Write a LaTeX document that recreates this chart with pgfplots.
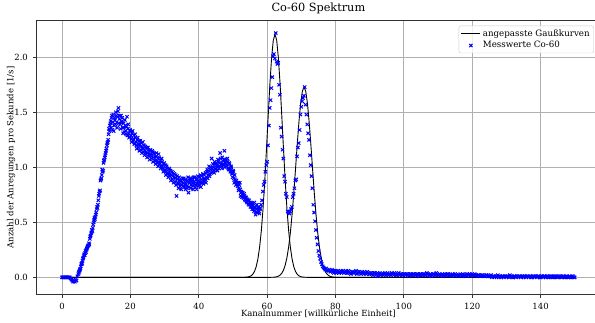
\documentclass[border=0pt]{standalone}
\usepackage{fontspec}
\setmainfont{DejaVu Serif}
\usepackage{pgfplots}
\pgfplotsset{compat=1.18}
\definecolor{gridgray}{RGB}{176,176,176}
\definecolor{spine}{RGB}{50,50,50}
\definecolor{mblue}{RGB}{0,0,255}
\begin{document}
\begin{tikzpicture}
\path[use as bounding box] (-36.4pt,-28.6pt) rectangle (558.6pt,294.4pt);
\begin{axis}[
  at={(0,0)}, anchor=south west,
  scale only axis, width=564pt, height=273.7pt,
  xmin=-7.5, xmax=157.5, ymin=-0.155, ymax=2.333,
  xtick={0,20,40,60,80,100,120,140},
  ytick={0,0.5,1,1.5,2},
  yticklabel style={/pgf/number format/fixed, /pgf/number format/fixed zerofill, /pgf/number format/precision=1, xshift=-1.5pt},
  /pgf/number format/assume math mode=true,
  tick label style={font=\fontsize{8.5}{10}\selectfont},
  xticklabel style={inner sep=0pt, yshift=-5pt},
  tick align=outside, major tick length=3.5pt,
  tick style={spine, line width=0.8pt},
  tick pos=left,
  grid=major,
  major grid style={gridgray, line width=0.8pt},
  axis line style={spine, line width=1.1pt},
  title={Co-60 Spektrum},
  title style={font=\fontsize{11.3}{13}\selectfont, at={(axis description cs:0.5,1)}, anchor=base, yshift=2.7pt, inner sep=0pt},
  xlabel={Kanalnummer [willkürliche Einheit]},
  xlabel style={font=\fontsize{8.5}{10}\selectfont, at={(axis description cs:0.5,0)}, anchor=base, yshift=-22.3pt, inner sep=0pt},
  every axis y label/.style={font=\fontsize{8.5}{10}\selectfont, at={(axis description cs:0,0.5)}, xshift=-23pt, rotate=90, anchor=base, inner sep=0pt},
  ylabel={Anzahl der Anregungen pro Sekunde [1/s]},
  legend style={at={(1,1)}, anchor=north east, xshift=-6.5pt, yshift=-5pt, draw=black!20, rounded corners=2pt, fill=white, fill opacity=0.8, text opacity=1, font=\fontsize{8.7}{10}\selectfont, inner xsep=2pt, inner ysep=1.5pt},
  legend cell align=left,
  legend image code/.code={\draw[mark repeat=2,mark phase=2,#1] plot coordinates {(0pt,0pt)(9.5pt,0pt)(19pt,0pt)};},
]
% fitted Gaussian 1
\addplot[black, line width=0.9pt, no marks] coordinates {
(0,0) (52,0) (52.3,0.0001) (53.3,0.0005) (54.3,0.0030) (54.8,0.0066) (55.3,0.0140) (55.8,0.0281)
(56.3,0.0536) (56.8,0.097) (57.3,0.167) (57.8,0.273) (58.3,0.423) (58.8,0.623) (59.3,0.872)
(59.8,1.159) (60.3,1.462) (60.8,1.752) (61.3,1.993) (61.8,2.154) (62.3,2.21) (62.8,2.154)
(63.3,1.993) (63.8,1.752) (64.3,1.462) (64.8,1.159) (65.3,0.872) (65.8,0.623) (66.3,0.423)
(66.8,0.273) (67.3,0.167) (67.8,0.097) (68.3,0.0536) (68.8,0.0281) (69.3,0.0140) (69.8,0.0066)
(70.3,0.0030) (71.3,0.0005) (72.3,0.0001) (73,0) (150,0)
};
\addlegendentry{angepasste Gaußkurven}
% fitted Gaussian 2
\addplot[black, line width=0.9pt, no marks, forget plot] coordinates {
(0,0) (60.5,0) (60.8,0.0001) (61.8,0.0011) (62.3,0.0025) (62.8,0.0053) (63.3,0.0106) (63.8,0.0205)
(64.3,0.0377) (64.8,0.0665) (65.3,0.112) (65.8,0.180) (66.3,0.277) (66.8,0.406) (67.3,0.571)
(67.8,0.766) (68.3,0.982) (68.8,1.204) (69.3,1.411) (69.8,1.580) (70.3,1.691) (70.8,1.73)
(71.3,1.691) (71.8,1.580) (72.3,1.411) (72.8,1.204) (73.3,0.982) (73.8,0.766) (74.3,0.571)
(74.8,0.406) (75.3,0.277) (75.8,0.180) (76.3,0.112) (76.8,0.0665) (77.3,0.0377) (77.8,0.0205)
(78.3,0.0106) (78.8,0.0053) (79.3,0.0025) (79.8,0.0011) (80.8,0.0001) (81,0) (150,0)
};
% measured values (second half of channels)
\addplot[only marks, mark=x, mark size=2.3pt, mblue, mark options={line width=1pt}, forget plot] coordinates {
(4.875,0.04) (5.125,0.06) (5.375,0.08) (5.625,0.12) (5.875,0.13) (6.125,0.17) (6.375,0.20) (6.625,0.20) (6.875,0.24) (7.125,0.25)
(7.375,0.27) (7.625,0.29) (7.875,0.31) (8.125,0.35) (8.375,0.38) (8.625,0.41) (8.875,0.42) (9.125,0.48) (9.375,0.52) (9.625,0.53)
(9.875,0.57) (10.125,0.62) (10.375,0.63) (10.625,0.70) (10.875,0.76) (11.125,0.79) (11.375,0.89) (11.625,0.93) (11.875,0.96) (12.125,1.04)
(12.375,1.07) (12.625,1.11) (12.875,1.15) (13.125,1.20) (13.375,1.23) (13.625,1.30) (13.875,1.33) (14.125,1.40) (14.375,1.36) (14.625,1.47)
(14.875,1.41) (15.125,1.33) (15.375,1.45) (15.625,1.39) (15.875,1.47) (16.125,1.36) (16.375,1.51) (16.625,1.40) (16.875,1.47) (17.125,1.35)
(17.375,1.41) (17.625,1.45) (17.875,1.31) (18.125,1.36) (18.375,1.43) (18.625,1.33) (18.875,1.37) (19.125,1.29) (19.375,1.39) (19.625,1.27)
(19.875,1.34) (20.125,1.29) (20.375,1.23) (20.625,1.33) (20.875,1.26) (21.125,1.21) (21.375,1.30) (21.625,1.23) (21.875,1.17) (22.125,1.27)
(22.375,1.21) (22.625,1.15) (22.875,1.24) (23.125,1.19) (23.375,1.13) (23.625,1.23) (23.875,1.17) (24.125,1.11) (24.375,1.19) (24.625,1.14)
(24.875,1.09) (25.125,1.18) (25.375,1.12) (25.625,1.07) (25.875,1.16) (26.125,1.10) (26.375,1.15) (26.625,1.05) (26.875,1.13) (27.125,1.08)
(27.375,1.03) (27.625,1.13) (27.875,1.06) (28.125,1.01) (28.375,1.09) (28.625,1.04) (28.875,0.99) (29.125,1.08) (29.375,1.01) (29.625,0.96)
(29.875,1.04) (30.125,0.98) (30.375,0.93) (30.625,1.01) (30.875,0.95) (31.125,0.91) (31.375,0.99) (31.625,0.94) (31.875,0.88) (32.125,0.96)
(32.375,0.92) (32.625,0.86) (32.875,0.94) (33.125,0.90) (33.375,0.84) (33.625,0.92) (33.875,0.86) (34.125,0.81) (34.375,0.88) (34.625,0.85)
(34.875,0.80) (35.125,0.87) (35.375,0.83) (35.625,0.90) (35.875,0.84) (36.125,0.80) (36.375,0.87) (36.625,0.83) (36.875,0.91) (37.125,0.82)
(37.375,0.88) (37.625,0.81) (37.875,0.86) (38.125,0.90) (38.375,0.80) (38.625,0.85) (38.875,0.91) (39.125,0.84) (39.375,0.80) (39.625,0.87)
(39.875,0.83) (40.125,0.91) (40.375,0.86) (40.625,0.82) (40.875,0.92) (41.125,0.88) (41.375,0.85) (41.625,0.93) (41.875,0.89) (42.125,0.86)
(42.375,0.96) (42.625,0.90) (42.875,0.97) (43.125,0.92) (43.375,1.00) (43.625,0.95) (43.875,0.99) (44.125,1.03) (44.375,0.97) (44.625,1.05)
(44.875,0.98) (45.125,1.04) (45.375,1.00) (45.625,1.07) (45.875,0.99) (46.125,1.04) (46.375,1.08) (46.625,1.01) (46.875,1.09) (47.125,1.03)
(47.375,1.07) (47.625,1.00) (47.875,1.06) (48.125,1.02) (48.375,1.08) (48.625,0.99) (48.875,1.04) (49.125,0.98) (49.375,1.01) (49.625,0.95)
(49.875,0.91) (50.125,0.96) (50.375,0.86) (50.625,0.89) (50.875,0.84) (51.125,0.86) (51.375,0.83) (51.625,0.79) (51.875,0.84) (52.125,0.80)
(52.375,0.77) (52.625,0.73) (52.875,0.77) (53.125,0.72) (53.375,0.74) (53.625,0.70) (53.875,0.72) (54.125,0.68) (54.375,0.70) (54.625,0.66)
(54.875,0.68) (55.125,0.64) (55.375,0.67) (55.625,0.62) (55.875,0.65) (56.125,0.60) (56.375,0.64) (56.625,0.57) (56.875,0.62) (57.125,0.59)
(57.375,0.63) (57.625,0.60) (57.875,0.62)
(78.75,0.06) (79.25,0.05) (79.75,0.06) (80.25,0.04) (80.75,0.06) (81.25,0.05) (81.75,0.04) (82.25,0.06) (82.75,0.05) (83.25,0.04)
(83.75,0.06) (84.25,0.04) (84.75,0.05) (85.25,0.04) (85.75,0.05) (86.25,0.03) (86.75,0.05) (87.25,0.04) (87.75,0.05) (88.25,0.03)
(88.75,0.04) (89.25,0.05) (89.75,0.03) (90.25,0.04) (90.75,0.03) (91.25,0.04) (91.75,0.02) (92.25,0.04) (92.75,0.03) (93.25,0.02)
(93.75,0.03) (94.25,0.03) (94.75,0.02) (95.25,0.04) (95.75,0.03) (96.25,0.02) (96.75,0.03) (97.25,0.04) (97.75,0.02) (98.25,0.03)
(98.75,0.02) (99.25,0.03) (99.75,0.02) (100.25,0.03) (100.75,0.03) (101.25,0.02) (101.75,0.03) (102.25,0.02) (102.75,0.03) (103.25,0.02)
(103.75,0.03) (104.25,0.02) (104.75,0.03) (105.25,0.02) (105.75,0.03) (106.25,0.02) (106.75,0.04) (107.25,0.02) (107.75,0.03) (108.25,0.02)
(108.75,0.03) (109.25,0.02) (109.75,0.03) (110.25,0.02) (110.75,0.02) (111.25,0.03) (111.75,0.02) (112.25,0.02) (112.75,0.03) (113.25,0.02)
(113.75,0.02) (114.25,0.03) (114.75,0.02) (115.25,0.02) (115.75,0.01) (116.25,0.02) (116.75,0.02) (117.25,0.03) (117.75,0.02) (118.25,0.01)
(118.75,0.02) (119.25,0.03) (119.75,0.02) (120.25,0.02) (120.75,0.03) (121.25,0.02) (121.75,0.02) (122.25,0.01) (122.75,0.02) (123.25,0.01)
(123.75,0.01) (124.25,0.02) (124.75,0.01) (125.25,0.01) (125.75,0.00) (126.25,0.01) (126.75,0.01) (127.25,0.01) (127.75,0.00) (128.25,0.01)
(128.75,0.01) (129.25,0.00) (129.75,0.01) (130.25,0.01) (130.75,0.00) (131.25,0.01) (131.75,0.00) (132.25,0.01) (132.75,0.00) (133.25,0.01)
(133.75,0.01) (134.25,0.00) (134.75,0.01) (135.25,0.01) (135.75,0.00) (136.25,0.01) (136.75,0.01) (137.25,0.00) (137.75,0.01) (138.25,0.00)
(138.75,0.01) (139.25,0.01) (139.75,0.00) (140.25,0.01) (140.75,0.00) (141.25,0.01) (141.75,0.01) (142.25,0.00) (142.75,0.01) (143.25,0.01)
(143.75,0.00) (144.25,0.01) (144.75,0.00) (145.25,0.01) (145.75,0.01) (146.25,0.00) (146.75,0.01) (147.25,0.00) (147.75,0.01) (148.25,0.00)
(148.75,0.00) (149.25,0.01) (149.75,0.00)
};
% measured values
\addplot[only marks, mark=x, mark size=2.3pt, mblue, mark options={line width=1pt}] coordinates {
(0,0.00) (0.25,0.00) (0.5,0.00) (0.75,0.00) (1,0.00) (1.25,0.00) (1.5,0.00) (1.75,0.00) (2,0.00) (2.25,0.00)
(2.5,-0.01) (2.75,-0.02) (3,-0.03) (3.25,-0.04) (3.5,-0.03) (3.75,-0.04) (4,-0.02) (4.25,-0.03) (4.5,0.01) (4.75,0.03)
(5,0.05) (5.25,0.07) (5.5,0.10) (5.75,0.12) (6,0.15) (6.25,0.18) (6.5,0.21) (6.75,0.22) (7,0.23) (7.25,0.26)
(7.5,0.28) (7.75,0.29) (8,0.30) (8.25,0.37) (8.5,0.40) (8.75,0.43) (9,0.45) (9.25,0.50) (9.5,0.54) (9.75,0.55)
(10,0.59) (10.25,0.64) (10.5,0.66) (10.75,0.74) (11,0.78) (11.25,0.88) (11.5,0.90) (11.75,0.98) (12,0.97) (12.25,1.06)
(12.5,1.09) (12.75,1.13) (13,1.17) (13.25,1.22) (13.5,1.25) (13.75,1.35) (14,1.38) (14.25,1.42) (14.5,1.45) (14.75,1.34)
(15,1.48) (15.25,1.38) (15.5,1.43) (15.75,1.50) (16,1.41) (16.25,1.46) (16.5,1.54) (16.75,1.44) (17,1.39) (17.25,1.47)
(17.5,1.42) (17.75,1.36) (18,1.40) (18.25,1.32) (18.5,1.38) (18.75,1.30) (19,1.46) (19.25,1.35) (19.5,1.31) (19.75,1.28)
(20,1.33) (20.25,1.26) (20.5,1.31) (20.75,1.24) (21,1.29) (21.25,1.22) (21.5,1.27) (21.75,1.20) (22,1.25) (22.25,1.18)
(22.5,1.24) (22.75,1.21) (23,1.16) (23.25,1.22) (23.5,1.17) (23.75,1.14) (24,1.20) (24.25,1.15) (24.5,1.12) (24.75,1.18)
(25,1.13) (25.25,1.16) (25.5,1.10) (25.75,1.15) (26,1.12) (26.25,1.08) (26.5,1.14) (26.75,1.09) (27,1.12) (27.25,1.06)
(27.5,1.10) (27.75,1.04) (28,1.08) (28.25,1.12) (28.5,1.03) (28.75,1.06) (29,1.01) (29.25,1.05) (29.5,0.99) (29.75,1.03)
(30,0.97) (30.25,1.02) (30.5,0.96) (30.75,0.99) (31,0.94) (31.25,0.98) (31.5,0.92) (31.75,0.97) (32,0.93) (32.25,0.89)
(32.5,0.95) (32.75,0.91) (33,0.87) (33.25,0.93) (33.5,0.74) (33.75,0.89) (34,0.85) (34.25,0.91) (34.5,0.83) (34.75,0.88)
(35,0.84) (35.25,0.90) (35.5,0.86) (35.75,0.82) (36,0.89) (36.25,0.85) (36.5,0.81) (36.75,0.88) (37,0.77) (37.25,0.86)
(37.5,0.90) (37.75,0.84) (38,0.88) (38.25,0.83) (38.5,0.91) (38.75,0.87) (39,0.82) (39.25,0.89) (39.5,0.85) (39.75,0.92)
(40,0.88) (40.25,0.84) (40.5,0.93) (40.75,0.89) (41,0.86) (41.25,0.94) (41.5,0.90) (41.75,0.87) (42,0.95) (42.25,0.91)
(42.5,0.98) (42.75,0.93) (43,1.01) (43.25,0.94) (43.5,0.98) (43.75,1.08) (44,0.96) (44.25,1.00) (44.5,0.95) (44.75,1.03)
(45,0.99) (45.25,1.02) (45.5,0.97) (45.75,1.05) (46,1.01) (46.25,1.13) (46.5,1.03) (46.75,0.99) (47,1.06) (47.25,1.02)
(47.5,1.15) (47.75,1.04) (48,1.07) (48.25,1.01) (48.5,1.05) (48.75,0.98) (49,1.03) (49.25,0.96) (49.5,1.00) (49.75,0.94)
(50,0.97) (50.25,0.90) (50.5,0.93) (50.75,0.87) (51,0.88) (51.25,0.85) (51.5,0.86) (51.75,0.81) (52,0.86) (52.25,0.74)
(52.5,0.78) (52.75,0.75) (53,0.73) (53.25,0.76) (53.5,0.71) (53.75,0.73) (54,0.69) (54.25,0.71) (54.5,0.67) (54.75,0.70)
(55,0.66) (55.25,0.68) (55.5,0.64) (55.75,0.67) (56,0.62) (56.25,0.68) (56.5,0.63) (56.75,0.59) (57,0.66) (57.25,0.61)
(57.5,0.64) (57.75,0.58) (58,0.63) (58.25,0.66) (58.5,0.70) (58.75,0.78) (59,0.84) (59.25,0.87) (59.5,0.96) (59.75,1.02)
(60,1.05) (60.25,1.20) (60.5,1.38) (60.75,1.54) (61,1.61) (61.25,1.72) (61.5,1.82) (61.75,2.01) (62,2.03) (62.25,1.99)
(62.5,2.22) (62.75,1.96) (63,1.94) (63.25,1.95) (63.5,1.75) (63.75,1.66) (64,1.36) (64.25,1.28) (64.5,1.16) (64.75,1.08)
(65,0.92) (65.25,0.87) (65.5,0.76) (65.75,0.73) (66,0.60) (66.25,0.59) (66.5,0.58) (66.75,0.60) (67,0.62) (67.25,0.64)
(67.5,0.73) (67.75,0.76) (68,0.81) (68.25,0.88) (68.5,0.89) (68.75,1.10) (69,1.18) (69.25,1.22) (69.5,1.34) (69.75,1.48)
(70,1.55) (70.25,1.60) (70.5,1.63) (70.75,1.65) (71,1.73) (71.25,1.57) (71.5,1.48) (71.75,1.39) (72,1.31) (72.25,1.25)
(72.5,1.11) (72.75,1.02) (73,0.92) (73.25,0.81) (73.5,0.66) (73.75,0.59) (74,0.51) (74.25,0.43) (74.5,0.36) (74.75,0.30)
(75,0.24) (75.25,0.20) (75.5,0.17) (75.75,0.14) (76,0.12) (76.25,0.10) (76.5,0.09) (76.75,0.08) (77,0.07) (77.25,0.08)
(77.5,0.06) (77.75,0.07) (78,0.06)
(78.5,0.05) (79,0.07) (79.5,0.04) (80,0.06) (80.5,0.05) (81,0.04) (81.5,0.06) (82,0.05) (82.5,0.04) (83,0.06)
(83.5,0.04) (84,0.05) (84.5,0.03) (85,0.05) (85.5,0.04) (86,0.06) (86.5,0.04) (87,0.05) (87.5,0.03) (88,0.04)
(88.5,0.05) (89,0.03) (89.5,0.04) (90,0.03) (90.5,0.04) (91,0.02) (91.5,0.04) (92,0.03) (92.5,0.01) (93,0.04)
(93.5,0.03) (94,0.02) (94.5,0.04) (95,0.03) (95.5,0.02) (96,0.03) (96.5,0.04) (97,0.02) (97.5,0.03) (98,0.02)
(98.5,0.04) (99,0.03) (99.5,0.02) (100,0.03) (100.5,0.02) (101,0.03) (101.5,0.01) (102,0.03) (102.5,0.02) (103,0.03)
(103.5,0.02) (104,0.03) (104.5,0.01) (105,0.03) (105.5,0.02) (106,0.03) (106.5,0.02) (107,0.03) (107.5,0.02) (108,0.01)
(108.5,0.03) (109,0.02) (109.5,0.04) (110,0.02) (110.5,0.03) (111,0.02) (111.5,0.01) (112,0.03) (112.5,0.02) (113,0.03)
(113.5,0.02) (114,0.01) (114.5,0.02) (115,0.03) (115.5,0.02) (116,0.02) (116.5,0.03) (117,0.01) (117.5,0.02) (118,0.02)
(118.5,0.03) (119,0.02) (119.5,0.01) (120,0.03) (120.5,0.02) (121,0.02) (121.5,0.01) (122,0.02) (122.5,0.01) (123,0.02)
(123.5,0.01) (124,0.02) (124.5,0.01) (125,0.01) (125.5,0.02) (126,0.01) (126.5,0.00) (127,0.01) (127.5,0.02) (128,0.01)
(128.5,0.00) (129,0.01) (129.5,0.01) (130,0.00) (130.5,0.01) (131,0.02) (131.5,0.01) (132,0.00) (132.5,0.01) (133,0.01)
(133.5,0.00) (134,0.01) (134.5,0.01) (135,0.00) (135.5,0.01) (136,0.01) (136.5,0.00) (137,0.01) (137.5,0.00) (138,0.01)
(138.5,0.01) (139,0.00) (139.5,0.01) (140,0.00) (140.5,0.01) (141,0.01) (141.5,0.00) (142,0.01) (142.5,0.00) (143,0.01)
(143.5,0.00) (144,0.01) (144.5,0.01) (145,0.00) (145.5,0.01) (146,0.00) (146.5,0.01) (147,0.00) (147.5,0.01) (148,0.00)
(148.5,0.01) (149,0.00) (149.5,0.01) (150,0.00)
};
\addlegendentry{Messwerte Co-60}
\end{axis}
\end{tikzpicture}
\end{document}
